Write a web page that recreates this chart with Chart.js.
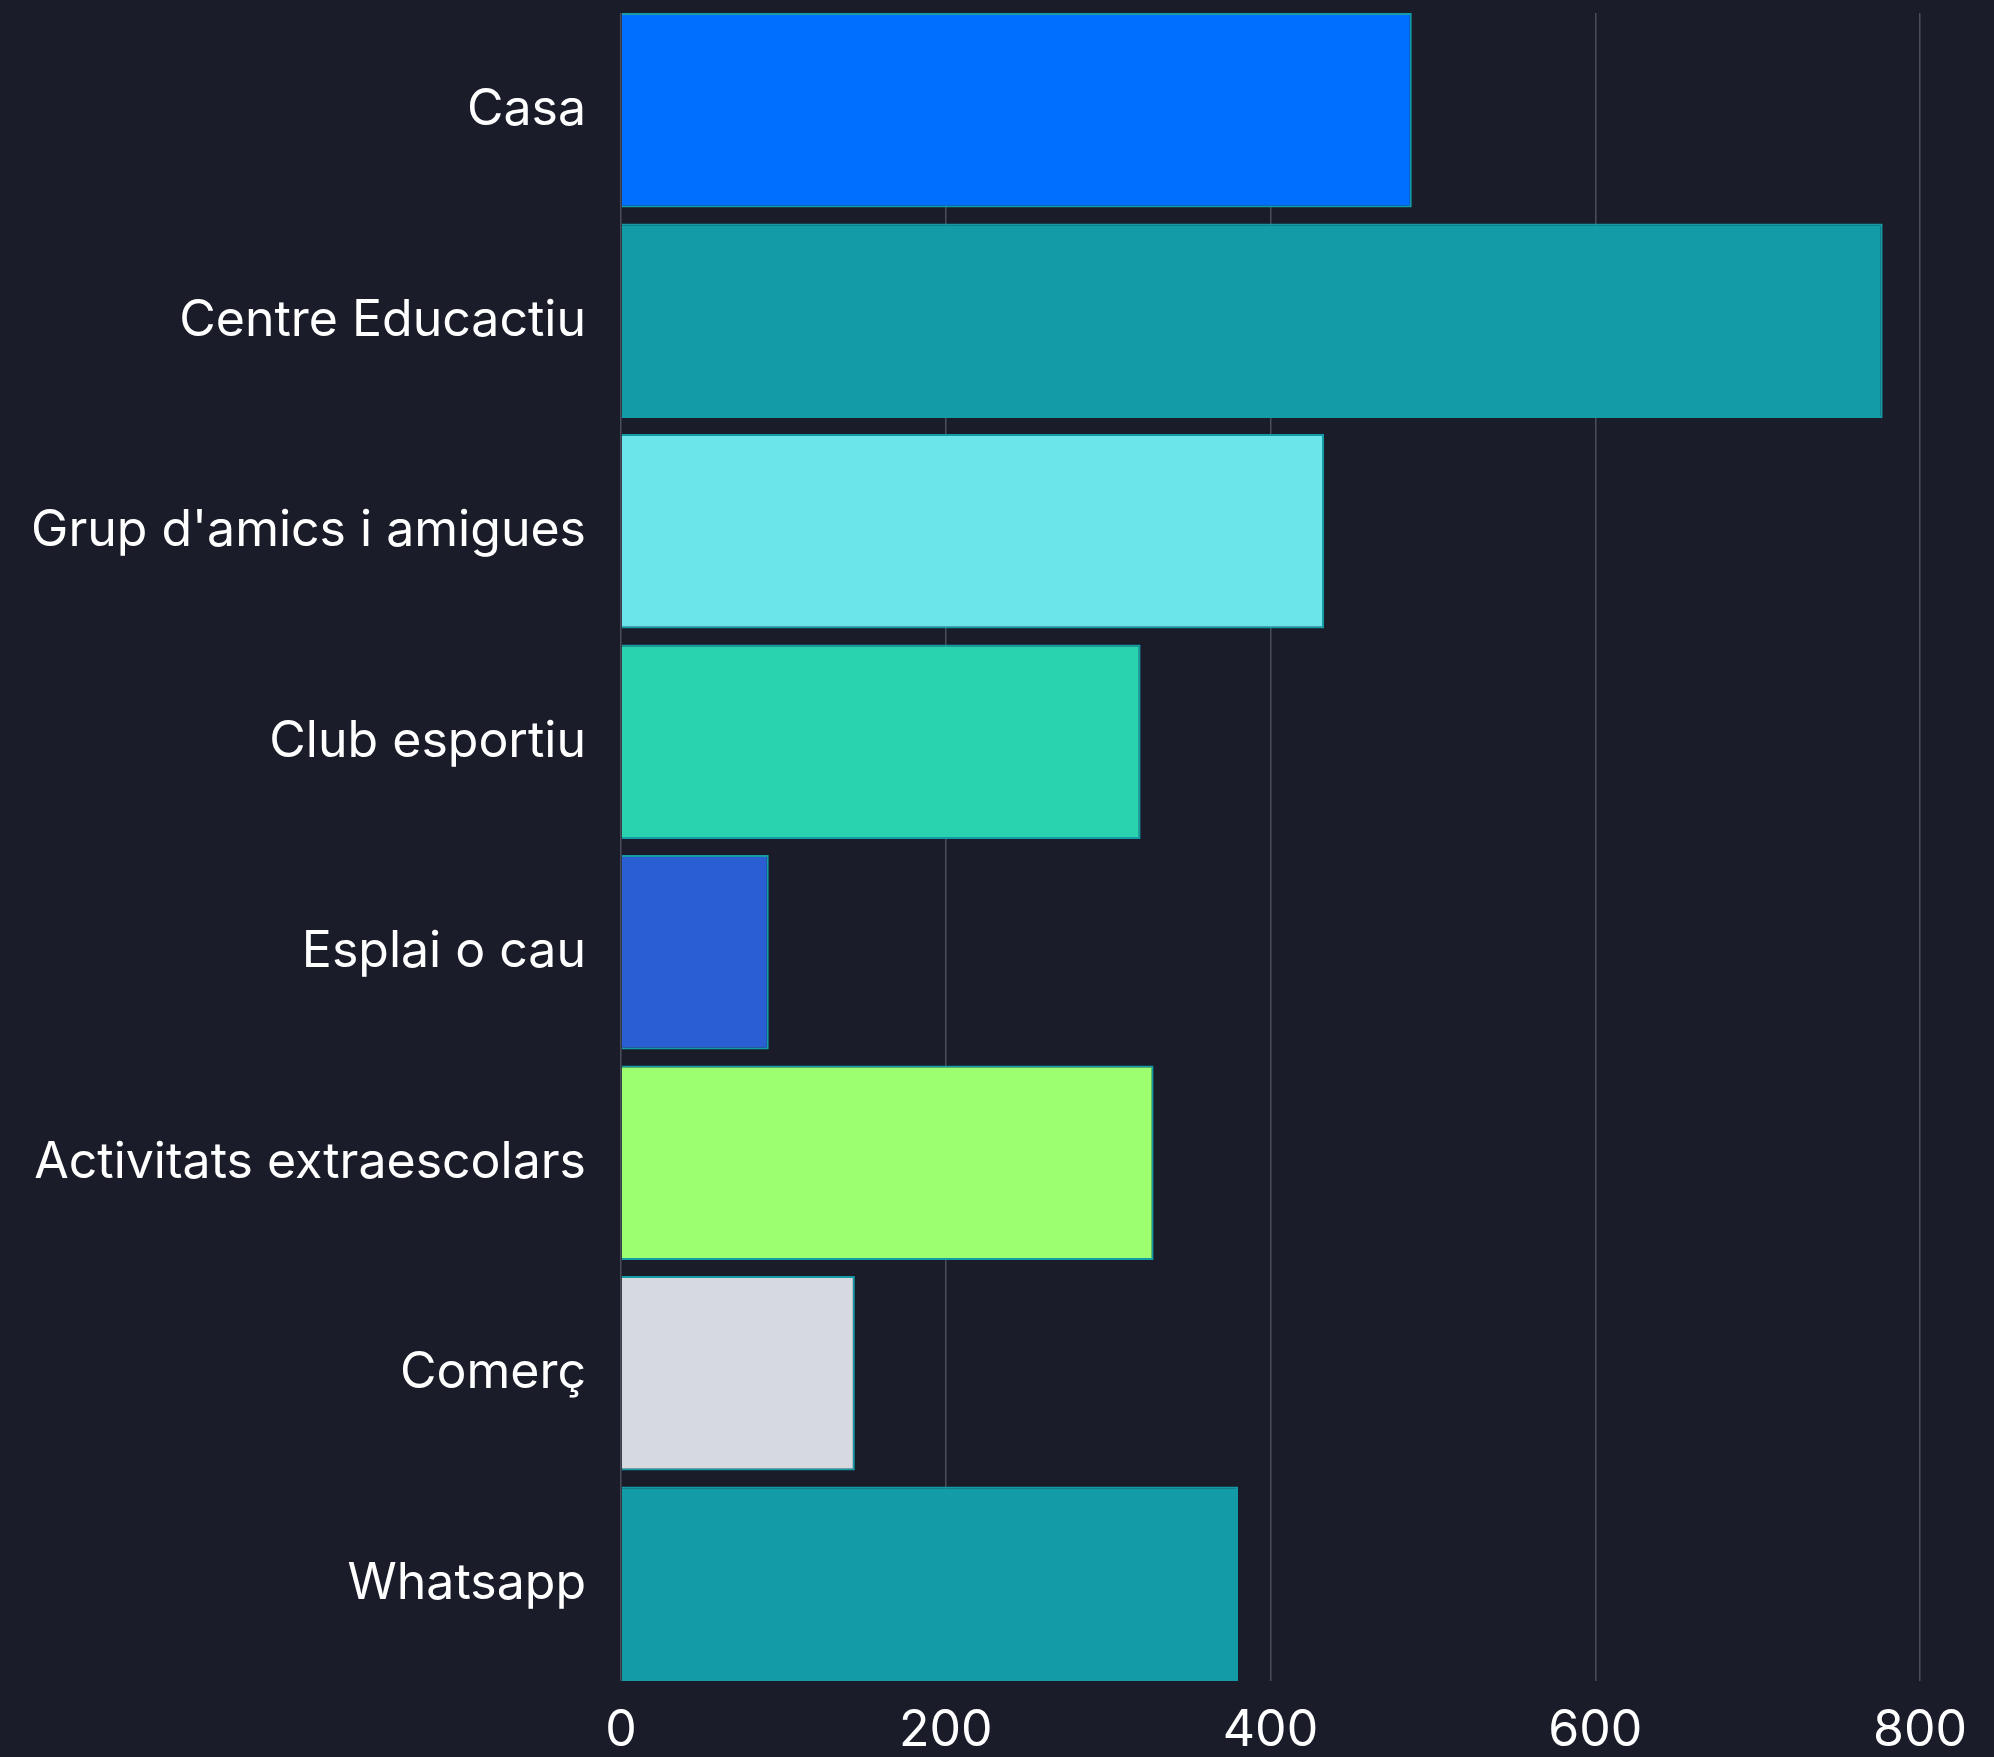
<!DOCTYPE html>
<html>
<head>
<meta charset="utf-8">
<script src="https://cdn.jsdelivr.net/npm/chart.js@4/dist/chart.umd.min.js"></script>
<style>
  html, body { margin: 0; padding: 0; background: #1a1d29; }
  #wrap { width: 1994px; height: 1757px; }
</style>
</head>
<body>
<div id="wrap"><canvas id="c" width="1994" height="1757"></canvas></div>
<script>
const categories = ["Casa", "Centre Educactiu", "Grup d'amics i amigues", "Club esportiu", "Esplai o cau", "Activitats extraescolars", "Comerç", "Whatsapp"];
const values = [487, 777, 433, 320, 91, 328, 144, 380];
const barColors = ["#006eff", "#139ca8", "#6ce5ea", "#2ad3b0", "#2a5fd4", "#9cff70", "#d6dae0", "#139ca8"];
const xTicks = [0, 200, 400, 600, 800];
const BAR_PCT = 0.924;

// Keep grid lines within the span of the bars (as in the reference)
const gridClip = {
  id: 'gridClip',
  beforeDraw(chart) {
    const { ctx, chartArea: a } = chart;
    const pitch = (a.bottom - a.top) / categories.length;
    const half = pitch * (1 - BAR_PCT) / 2;
    ctx.save();
    ctx.beginPath();
    ctx.rect(0, 0, chart.width, chart.height);
    ctx.rect(a.left - 5, a.top, a.right - a.left + 10, half);
    ctx.rect(a.left - 5, a.bottom - half, a.right - a.left + 10, half);
    ctx.clip('evenodd');
  },
  beforeDatasetsDraw(chart) {
    chart.ctx.restore();
  }
};

new Chart(document.getElementById('c'), {
  type: 'bar',
  data: {
    labels: categories,
    datasets: [{
      data: values,
      backgroundColor: barColors,
      borderColor: '#139ca8',
      borderWidth: 2,
      categoryPercentage: 1.0,
      barPercentage: BAR_PCT
    }]
  },
  plugins: [gridClip],
  options: {
    indexAxis: 'y',
    responsive: false,
    animation: false,
    devicePixelRatio: 1,
    layout: { padding: { top: 5, right: 74, left: 0, bottom: 0 } },
    plugins: { legend: { display: false }, tooltip: { enabled: false } },
    scales: {
      x: {
        min: 0, max: 800,
        afterBuildTicks: (s) => { s.ticks = xTicks.map(v => ({ value: v })); },
        grid: { color: '#4a4e5a', lineWidth: 1.5, drawTicks: false },
        border: { display: false },
        ticks: { color: '#ffffff', font: { family: 'Inter', size: 50 }, padding: 12 },
        afterFit: (s) => { s.height = 68; }
      },
      y: {
        grid: { display: false },
        border: { display: false },
        ticks: { color: '#ffffff', font: { family: 'Inter', size: 50 }, padding: 27 },
        afterFit: (s) => { s.width = 621; s.paddingTop = 0; s.paddingBottom = 0; }
      }
    }
  }
});
</script>
</body>
</html>
